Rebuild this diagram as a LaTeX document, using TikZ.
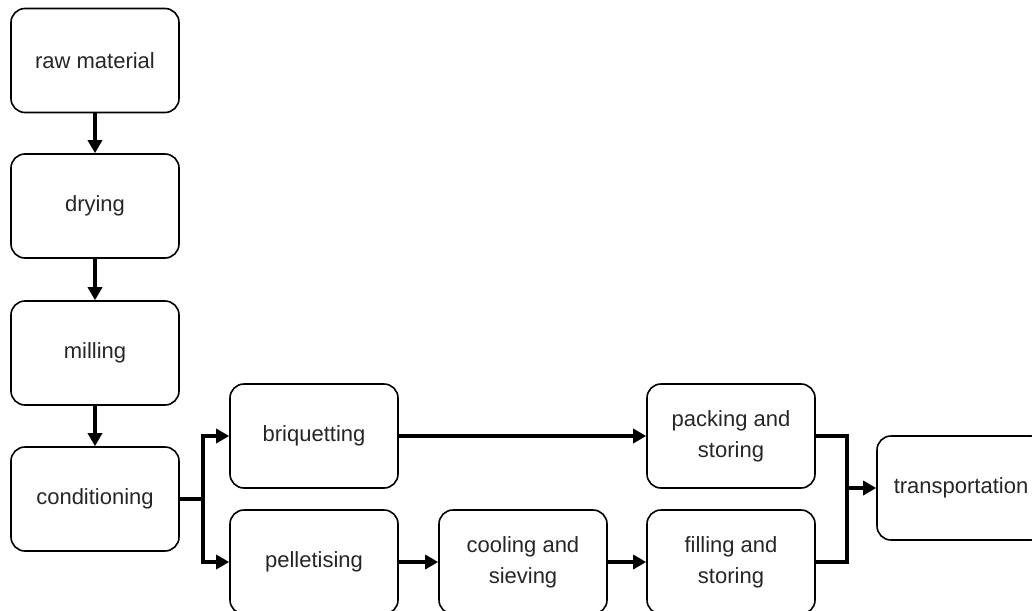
\documentclass[tikz,border=0pt]{standalone}
\usepackage{fontspec}
\setmainfont{Liberation Sans}
\usetikzlibrary{arrows.meta}

\begin{document}
\begin{tikzpicture}[x=0.5pt,y=-0.5pt,
	box/.style={draw, line width=0.8pt, rounded corners=7pt, minimum width=84pt, minimum height=52pt,
		align=center, text=black!85, font=\fontsize{11pt}{15.5pt}\selectfont},
	flow/.style={line width=1.9pt, -{Triangle[length=6.5pt,width=7pt]}}]

		\useasboundingbox (0,0) rectangle (1032,610);

		\node[box] (raw)   at ( 95, 60.5) {raw material};
		\node[box] (dry)   at ( 95,206)   {drying};
		\node[box] (mill)  at ( 95,353)   {milling};
		\node[box] (cond)  at ( 95,499)   {conditioning};

		\node[box] (briq)  at (314,436)   {briquetting};
		\node[box] (pell)  at (314,562)   {pelletising};
		\node[box] (cool)  at (523,562)   {cooling and\\sieving};

		\node[box] (pack)  at (731,436)   {packing and\\storing};
		\node[box] (fill)  at (731,562)   {filling and\\storing};
		\node[box] (trans) at (961,488)   {transportation};

		\coordinate (split) at (203,499);
		\coordinate (merge) at (847,488);

		\draw[flow] (raw) to (dry); \draw[flow] (dry) to (mill); \draw[flow] (mill) to (cond);

		\draw[line width=1.9pt] (cond.east) to (split);
		\draw[flow] (split) |- (briq.west);
		\draw[flow] (split) |- (pell.west);

		\draw[flow] (briq) to (pack);
		\draw[flow] (pell) to (cool); \draw[flow] (cool) to (fill);

		\draw[line width=1.9pt] (pack.east) -| (merge);
		\draw[line width=1.9pt] (fill.east) -| (merge);
		\draw[flow] (merge) to (trans.west);

	\end{tikzpicture}
\end{document}
